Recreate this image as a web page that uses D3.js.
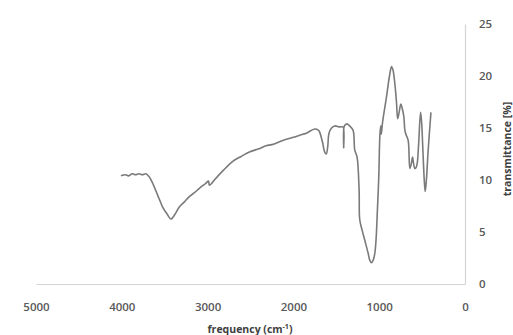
<!DOCTYPE html>
<html>
<head>
<meta charset="utf-8">
<script src="https://cdnjs.cloudflare.com/ajax/libs/d3/7.8.5/d3.min.js"></script>
<style>
	body { margin: 0; background: #fff; }
	text { font-family: "Open Sans", "Liberation Sans", Arial, sans-serif; }
</style>
</head>
<body>
<script>
// IR spectrum (frequency in cm-1, transmittance in %)
var frequency = [4010, 3960, 3920, 3880, 3840, 3800, 3760, 3719, 3680, 3641, 3580, 3524, 3470, 3427,
	3380, 3330, 3270, 3213, 3150, 3096, 3050, 3018, 2990, 2979, 2950, 2921, 2820, 2707, 2600,
	2512, 2400, 2317, 2250, 2123, 2000, 1928, 1850, 1752, 1710, 1694, 1660, 1636, 1617, 1600,
	1585, 1555, 1519, 1460, 1422, 1414, 1406, 1375, 1345, 1305, 1285, 1258, 1234, 1227, 1200,
	1168, 1130, 1110, 1090, 1070, 1051, 1035, 1024, 1005, 992, 982, 976, 960, 915, 880, 856,
	840, 818, 798, 785, 770, 748, 735, 713, 701, 689, 662, 643, 625, 611, 600, 584, 570, 557,
	540, 518, 505, 494, 475, 464, 450, 429, 397];
var transmittance = [10.4, 10.5, 10.4, 10.6, 10.5, 10.6, 10.5, 10.6, 10.3, 9.7, 8.5, 7.4, 6.7, 6.25,
	6.7, 7.4, 7.9, 8.4, 8.8, 9.2, 9.5, 9.7, 9.9, 9.5, 9.7, 10.0, 10.9, 11.8, 12.3,
	12.7, 13.0, 13.3, 13.4, 13.8, 14.1, 14.3, 14.5, 14.9, 14.8, 14.6, 13.6, 12.7, 12.5, 13.2,
	14.5, 15.0, 15.2, 15.1, 15.1, 13.1, 15.2, 15.4, 15.2, 14.8, 12.9, 12.2, 9.0, 6.2, 5.2,
	4.2, 3.0, 2.3, 2.05, 2.3, 2.95, 4.5, 6.5, 10.3, 14.3, 15.2, 14.4, 15.6, 18.0, 20.0, 20.9,
	20.6, 19.3, 17.4, 15.9, 16.4, 17.3, 17.0, 16.1, 14.8, 14.4, 13.8, 11.1, 11.6, 12.2, 11.6, 11.1, 11.2, 11.6,
	13.5, 16.5, 15.5, 13.5, 10.0, 8.9, 10.0, 12.9, 16.5];
var xTicks = [5000, 4000, 3000, 2000, 1000, 0];
var yTicks = [0, 5, 10, 15, 20, 25];

drawChart();

function drawChart() {
	var width = 513,
		height = 335;

	var data = frequency.map(function(f, i) { return {f: f, t: transmittance[i]}; });

	var x = d3.scaleLinear().domain([5000, 0]).range([36, 465]);
	var y = d3.scaleLinear().domain([0, 25]).range([284, 24]);

	var svg = d3.select("body").append("svg")
		.attr("width", width)
		.attr("height", height);

	// x axis along the bottom, no tick marks
	var gx = svg.append("g")
		.attr("transform", "translate(0,284)")
		.call(d3.axisBottom(x).tickValues(xTicks).tickSize(0).tickPadding(19).tickFormat(d3.format("d")));

	// y axis on the right side
	var gy = svg.append("g")
		.attr("transform", "translate(465,0)")
		.call(d3.axisRight(y).tickValues(yTicks).tickSize(0).tickPadding(14));

	[gx, gy].forEach(function(g) {
		g.select(".domain").attr("stroke", "#d4d4d4").attr("stroke-width", 1.2);
		g.selectAll("text")
			.attr("fill", "#595959")
			.style("font-size", "11.5px")
			.style("font-weight", "600");
	});

	svg.append("path")
		.datum(data)
		.attr("fill", "none")
		.attr("stroke", "#7a7a7a")
		.attr("stroke-width", 1.6)
		.attr("stroke-linejoin", "round")
		.attr("d", d3.line()
			.x(function(d) { return x(d.f); })
			.y(function(d) { return y(d.t); })
			.curve(d3.curveCatmullRom.alpha(0.5)));

	// axis titles
	var xt = svg.append("text")
		.attr("x", 250)
		.attr("y", 333)
		.attr("text-anchor", "middle")
		.attr("fill", "#404040")
		.style("font-size", "10.5px")
		.style("font-weight", "bold")
		.text("frequency (cm");
	xt.append("tspan").attr("dy", -4).style("font-size", "7px").text("-1");
	xt.append("tspan").attr("dy", 4).text(")");

	svg.append("text")
		.attr("transform", "translate(511,149) rotate(-90)")
		.attr("text-anchor", "middle")
		.attr("fill", "#404040")
		.style("font-size", "10.5px")
		.style("font-weight", "bold")
		.text("transmittance [%]");
}
</script>
</body>
</html>
